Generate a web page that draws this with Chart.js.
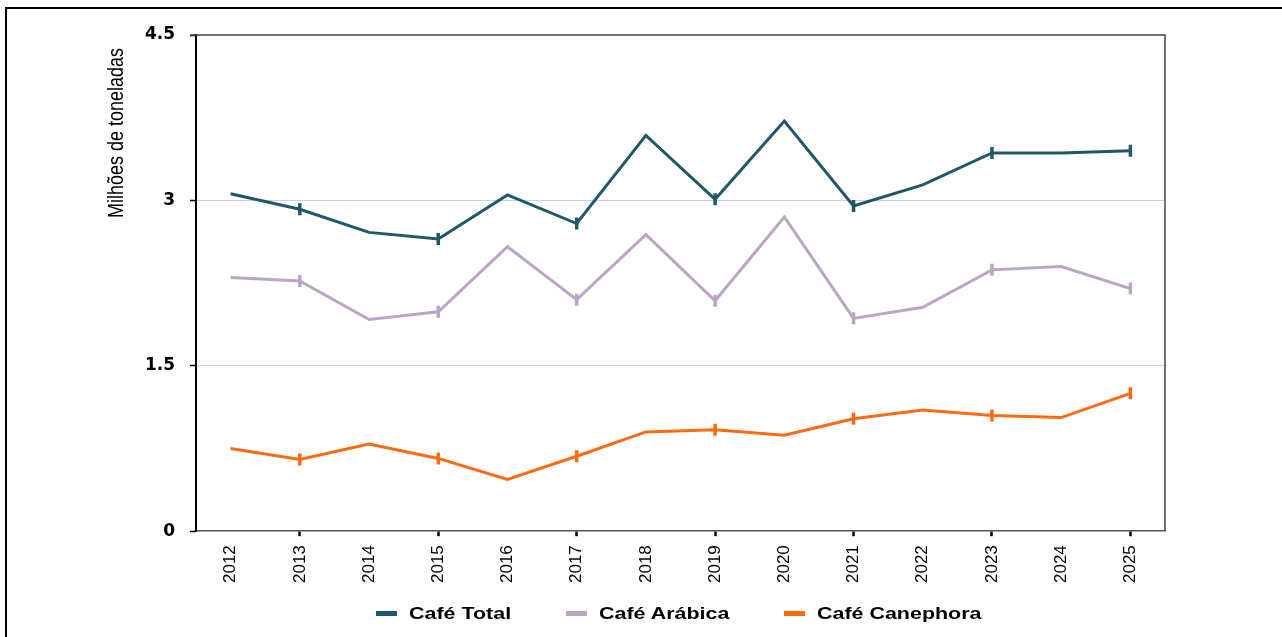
<!DOCTYPE html>
<html>
<head>
<meta charset="utf-8">
<script src="https://cdn.jsdelivr.net/npm/chart.js@4/dist/chart.umd.min.js"></script>
<style>
    html, body { margin: 0; padding: 0; background: #fff; }
    #wrap { position: relative; width: 1282px; height: 637px; overflow: hidden; }
    #chart { position: absolute; left: 0; top: 0; }
    .frame-top { position: absolute; left: 5px; top: 7px; width: 1277px; height: 2px; background: #000; }
    .frame-left { position: absolute; left: 5px; top: 7px; width: 2px; height: 630px; background: #000; }
    #legend {
        position: absolute; left: 0; top: 604px; width: 1282px;
        padding-left: 76px; box-sizing: border-box;
        display: flex; justify-content: center; gap: 55px;
        font-family: Arial, 'Liberation Sans', sans-serif; font-weight: bold; font-size: 16.5px;
        color: #000; white-space: nowrap;
    }
    #legend .item { display: flex; align-items: center; }
    #legend .box { width: 21px; height: 5px; margin-right: 12px; }
    #legend .txt { display: inline-block; transform: scaleX(1.3); transform-origin: left center; }
</style>
</head>
<body>
<div id="wrap">
    <canvas id="chart" width="1282" height="637"></canvas>
    <div class="frame-top"></div>
    <div class="frame-left"></div>
    <div id="legend"></div>
</div>
<script>
// anos safra
const years = ['2012', '2013', '2014', '2015', '2016', '2017', '2018', '2019', '2020', '2021', '2022', '2023', '2024', '2025'];

// milhões de toneladas
const cafeTotal = [3.06, 2.92, 2.71, 2.65, 3.05, 2.79, 3.59, 3.01, 3.72, 2.95, 3.14, 3.43, 3.43, 3.45];
const cafeArabica = [2.30, 2.27, 1.92, 1.99, 2.58, 2.10, 2.69, 2.09, 2.85, 1.93, 2.03, 2.37, 2.40, 2.20];
const cafeCanephora = [0.75, 0.65, 0.79, 0.66, 0.47, 0.68, 0.90, 0.92, 0.87, 1.02, 1.10, 1.05, 1.03, 1.25];

const yTicks = [0, 1.5, 3, 4.5];
const yTitle = 'Milhões de toneladas';

// marcador só nos anos ímpares
const markerRadius = ctx => (ctx.dataIndex % 2 === 1 ? 6 : 0);

function serie(label, data, color) {
    return {
        label: label,
        data: data,
        borderColor: color,
        backgroundColor: color,
        borderWidth: 3,
        tension: 0,
        pointStyle: 'line',
        rotation: 90,
        pointRadius: markerRadius,
        pointBorderWidth: 3.5,
        pointHoverRadius: 0
    };
}

// borda de cima e da direita + título do eixo y (fica perto do topo)
const frameBox = {
    id: 'frameBox',
    afterDraw(chart) {
        const { ctx, chartArea } = chart;
        ctx.save();
        ctx.strokeStyle = '#444';
        ctx.lineWidth = 1.5;
        ctx.beginPath();
        ctx.moveTo(chartArea.left - 6, chartArea.top);
        ctx.lineTo(chartArea.right, chartArea.top);
        ctx.lineTo(chartArea.right, chartArea.bottom);
        ctx.stroke();

        ctx.translate(117, 133);
        ctx.rotate(-Math.PI / 2);
        ctx.scale(1, 1.25);
        ctx.fillStyle = '#000';
        ctx.font = "18px Arial, 'Liberation Sans', sans-serif";
        ctx.textAlign = 'center';
        ctx.textBaseline = 'middle';
        ctx.fillText(yTitle, 0, 0);
        ctx.restore();
    }
};

const chart = new Chart(document.getElementById('chart').getContext('2d'), {
    type: 'line',
    data: {
        labels: years,
        datasets: [
            serie('Café Total', cafeTotal, '#1f5869'),
            serie('Café Arábica', cafeArabica, '#bba5c5'),
            serie('Café Canephora', cafeCanephora, '#fc6a12')
        ]
    },
    options: {
        responsive: false,
        animation: false,
        layout: { padding: { left: 78, right: 0, top: 35, bottom: 45 } },
        plugins: {
            legend: { display: false },
            tooltip: { enabled: false }
        },
        scales: {
            x: {
                offset: true,
                grid: {
                    drawOnChartArea: false,
                    offset: false,
                    tickLength: 5,
                    tickWidth: 2.5,
                    tickColor: ctx => (ctx.index % 2 === 1 ? '#000' : 'rgba(0,0,0,0)')
                },
                border: { color: '#555', width: 1.5 },
                ticks: {
                    minRotation: 90,
                    maxRotation: 90,
                    autoSkip: false,
                    padding: 9,
                    color: '#000',
                    font: { family: "Arial, 'Liberation Sans', sans-serif", size: 17 }
                }
            },
            y: {
                min: 0,
                max: 4.5,
                afterBuildTicks: scale => { scale.ticks = yTicks.map(v => ({ value: v })); },
                afterFit: scale => { scale.width = 118; },
                grid: {
                    color: ctx => (ctx.tick && (ctx.tick.value === 1.5 || ctx.tick.value === 3) ? '#cbcbff' : 'rgba(0,0,0,0)'),
                    lineWidth: 1,
                    tickLength: 6,
                    tickColor: '#000',
                    tickWidth: 1.5
                },
                border: { color: '#000', width: 2 },
                ticks: {
                    padding: 15,
                    color: '#000',
                    font: { family: 'DejaVu Sans', size: 17, weight: 'bold' },
                    callback: v => String(v)
                }
            },
            y2: {
                position: 'right',
                min: 0,
                max: 4.5,
                afterFit: scale => { scale.width = 117; },
                grid: { drawOnChartArea: false, drawTicks: false },
                border: { display: false },
                ticks: { display: false }
            }
        }
    },
    plugins: [frameBox]
});

// legenda em HTML (texto esticado na horizontal como no original)
const legend = document.getElementById('legend');
chart.data.datasets.forEach(ds => {
    const item = document.createElement('div');
    item.className = 'item';
    item.innerHTML = `<span class="box" style="background:${ds.borderColor}"></span><span class="txt">${ds.label}</span>`;
    legend.appendChild(item);
    const txt = item.querySelector('.txt');
    txt.style.marginRight = (txt.offsetWidth * 0.3) + 'px';
});
</script>
</body>
</html>
